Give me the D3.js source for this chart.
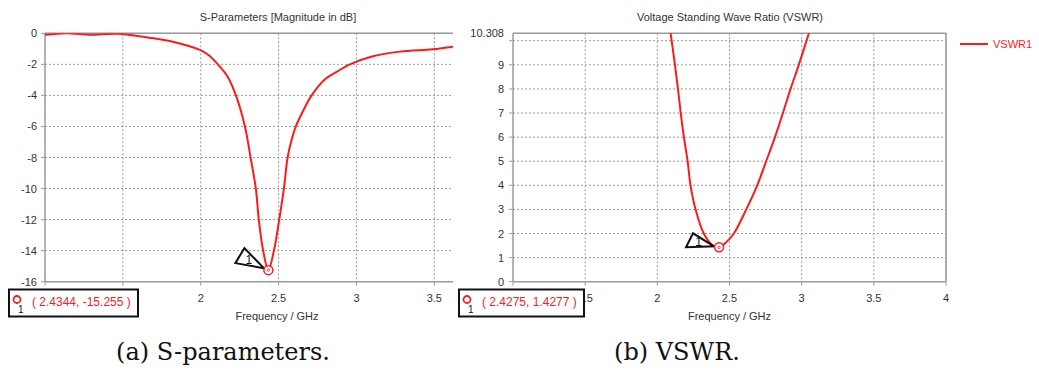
<!DOCTYPE html>
<html>
<head>
<meta charset="utf-8">
<script src="https://cdn.jsdelivr.net/npm/d3@7"></script>
<style>
  body { margin: 0; background: #fff; }
  svg text { font-family: "Liberation Sans", Arial, sans-serif; }
  .grid line { stroke: #9a9a9a; stroke-dasharray: 2,2; stroke-width: 1; }
  .frame { stroke: #9a9a9a; stroke-width: 1.5; fill: none; }
  .tick-text { fill: #333; font-size: 11px; }
  .caption { font-family: "DejaVu Serif", serif; font-size: 24px; fill: #111; }
</style>
</head>
<body>
<svg id="chart" width="1039" height="374"></svg>
<script>
// S11 magnitude (dB) vs frequency (GHz)
const s11Freq = [1.0, 1.14, 1.29, 1.46, 1.67, 1.82, 1.995, 2.05, 2.11, 2.17, 2.226, 2.284, 2.32, 2.354, 2.373, 2.401, 2.4344,
  2.47, 2.504, 2.534, 2.558, 2.58, 2.611, 2.66, 2.712, 2.8, 2.87, 2.958, 3.1, 3.28, 3.49, 3.62];
const s11Db = [-0.1, 0.0, -0.1, -0.03, -0.28, -0.54, -1.07, -1.4, -2.0, -2.75, -4.0, -6.0, -8.0, -10.0, -12.0, -14.0, -15.255,
  -14.0, -12.0, -10.0, -8.0, -7.0, -6.0, -4.95, -4.0, -2.95, -2.5, -2.0, -1.5, -1.18, -1.03, -0.86];

// VSWR vs frequency (GHz)
const vswrFreq = [2.07, 2.092, 2.122, 2.143, 2.162, 2.184, 2.21, 2.23, 2.265, 2.322, 2.385, 2.4275, 2.47, 2.53,
  2.616, 2.692, 2.754, 2.815, 2.87, 2.923, 2.98, 3.05, 3.07];
const vswrVal = [11.2, 10.308, 9, 8, 7, 6, 5, 4, 3, 2, 1.5, 1.4277, 1.6, 2,
  3, 4, 5, 6, 7, 8, 9, 10.308, 10.68];

const s11Marker = {f: 2.4344, v: -15.255, label: '( 2.4344, -15.255 )'};
const vswrMarker = {f: 2.4275, v: 1.4277, label: '( 2.4275, 1.4277 )'};

const s11XTicks = [1, 1.5, 2, 2.5, 3, 3.5];
const s11YTicks = [0, -2, -4, -6, -8, -10, -12, -14, -16];
const vswrXTicks = [1, 1.5, 2, 2.5, 3, 3.5, 4];
const vswrYTicks = [0, 1, 2, 3, 4, 5, 6, 7, 8, 9, 10];
const vswrYLabels = ['0', '1', '2', '3', '4', '5', '6', '7', '8', '9', ''];

const svg = d3.select('#chart');
const red = '#ff1a1a';

function drawPanel(opt) {
  const x = d3.scaleLinear().domain(opt.xDomain).range([opt.left, opt.right]);
  const y = d3.scaleLinear().domain(opt.yDomain).range([opt.bottom, opt.top]);
  const g = svg.append('g');
  const bx = opt.box[0], bw = opt.box[1];

  // grid
  const grid = g.append('g').attr('class', 'grid');
  grid.selectAll('line.v').data(opt.xTicks.filter(d => d > opt.xDomain[0])).enter()
    .append('line')
    .attr('x1', d => x(d)).attr('x2', d => x(d))
    .attr('y1', opt.top).attr('y2', opt.bottom);
  grid.selectAll('line.h').data(opt.yTicks.filter(d => d !== opt.yDomain[0])).enter()
    .append('line')
    .attr('x1', opt.left).attr('x2', opt.right)
    .attr('y1', d => y(d)).attr('y2', d => y(d));

  // frame
  g.append('line').attr('class', 'frame')
    .attr('x1', opt.left).attr('x2', opt.right).attr('y1', opt.top).attr('y2', opt.top);
  g.append('line').attr('class', 'frame')
    .attr('x1', opt.left).attr('x2', opt.right).attr('y1', opt.bottom).attr('y2', opt.bottom);
  g.append('line').attr('class', 'frame')
    .attr('x1', opt.left).attr('x2', opt.left).attr('y1', opt.top).attr('y2', opt.bottom);
  if (opt.rightBorder) {
    g.append('line').attr('class', 'frame')
      .attr('x1', opt.right).attr('x2', opt.right).attr('y1', opt.top).attr('y2', opt.bottom);
  }

  // tick marks
  g.selectAll('line.xt').data(opt.xTicks).enter().append('line')
    .attr('stroke', '#9a9a9a')
    .attr('x1', d => x(d)).attr('x2', d => x(d))
    .attr('y1', opt.bottom).attr('y2', opt.bottom + 4);
  g.selectAll('line.yt').data(opt.yTicks).enter().append('line')
    .attr('stroke', '#9a9a9a')
    .attr('x1', opt.left - 4).attr('x2', opt.left)
    .attr('y1', d => y(d)).attr('y2', d => y(d));

  // x tick labels: the marker box hides those under it
  const labClip = 'labclip' + opt.id;
  svg.append('clipPath').attr('id', labClip).append('rect')
    .attr('x', bx + bw + 1).attr('y', 0).attr('width', 1039).attr('height', 374);
  g.append('g').attr('clip-path', 'url(#' + labClip + ')')
    .selectAll('text').data(opt.xTicks.filter(d => x(d) + 8 > bx + bw)).enter().append('text')
    .attr('class', 'tick-text')
    .attr('text-anchor', 'middle')
    .attr('x', d => x(d)).attr('y', opt.bottom + 20)
    .text(d => d);
  g.selectAll('text.yl').data(opt.yTicks).enter().append('text')
    .attr('class', 'tick-text')
    .attr('text-anchor', 'end')
    .attr('x', opt.left - opt.labelGap).attr('y', d => y(d) + 4)
    .text((d, i) => opt.yLabels ? opt.yLabels[i] : d);
  if (opt.topLabel) {
    g.append('text').attr('class', 'tick-text')
      .attr('text-anchor', 'end')
      .attr('x', opt.left - opt.labelGap).attr('y', y(opt.yDomain[1]) + 4)
      .text(opt.topLabel);
  }

  // titles
  g.append('text').attr('class', 'tick-text')
    .attr('text-anchor', 'middle')
    .attr('x', (opt.titleX)).attr('y', 21)
    .text(opt.title);
  g.append('text').attr('class', 'tick-text')
    .attr('text-anchor', 'middle')
    .attr('x', (opt.left + opt.right) / 2 + opt.xTitleShift).attr('y', opt.bottom + 38)
    .text('Frequency / GHz');

  // curve
  const clipId = 'clip' + opt.id;
  svg.append('clipPath').attr('id', clipId).append('rect')
    .attr('x', opt.left).attr('y', opt.top)
    .attr('width', opt.right - opt.left).attr('height', opt.bottom - opt.top + 2);
  const pts = opt.xs.map((f, i) => [f, opt.ys[i]]);
  const line = d3.line().x(d => x(d[0])).y(d => y(d[1])).curve(d3.curveCatmullRom.alpha(0.5));
  g.append('path').datum(pts)
    .attr('clip-path', 'url(#' + clipId + ')')
    .attr('fill', 'none').attr('stroke', red).attr('stroke-width', 2)
    .attr('d', line);

  // marker
  const mx = x(opt.marker.f), my = y(opt.marker.v);
  const tri = opt.triOffsets.map(o => [mx + o[0], my + o[1]]);
  g.append('path')
    .attr('d', 'M' + tri.map(p => p.join(',')).join('L') + 'Z')
    .attr('fill', 'none').attr('stroke', '#111').attr('stroke-width', 2);
  g.append('text')
    .attr('x', d3.mean(tri, p => p[0]) + 1).attr('y', d3.mean(tri, p => p[1]) + 4)
    .attr('text-anchor', 'middle').attr('font-size', 12).attr('fill', '#111')
    .attr('font-family', 'DejaVu Serif, serif')
    .text('1');
  g.append('circle').attr('cx', mx).attr('cy', my).attr('r', 4.5)
    .attr('fill', '#fff').attr('stroke', red).attr('stroke-width', 1.5);
  g.append('circle').attr('cx', mx).attr('cy', my).attr('r', 1.2)
    .attr('fill', 'none').attr('stroke', red).attr('stroke-width', 0.8);

  // marker readout box
  g.append('rect').attr('x', bx).attr('y', 289.5).attr('width', bw).attr('height', 27)
    .attr('fill', '#fff').attr('stroke', '#111').attr('stroke-width', 2);
  g.append('circle').attr('cx', bx + 8).attr('cy', 299.5).attr('r', 3.5)
    .attr('fill', 'none').attr('stroke', red).attr('stroke-width', 1.8);
  g.append('text').attr('x', bx + 9).attr('y', 313).attr('font-size', 10).attr('fill', '#111')
    .text('1');
  g.append('text').attr('x', bx + 23).attr('y', 306).attr('font-size', 12).attr('fill', red)
    .text(opt.marker.label);
}

drawPanel({
  id: 'a', left: 45, right: 453, top: 33.3, bottom: 281.7,
  xDomain: [1, 3.62], yDomain: [-16, 0],
  xTicks: s11XTicks, yTicks: s11YTicks, labelGap: 8,
  title: 'S-Parameters [Magnitude in dB]', titleX: 278, xTitleShift: 28,
  xs: s11Freq, ys: s11Db, marker: s11Marker,
  triOffsets: [[-33, -7], [-24, -22], [-4.5, -2]],
  box: [9, 129], rightBorder: false
});

drawPanel({
  id: 'b', left: 513, right: 946, top: 33.3, bottom: 281.7,
  xDomain: [1, 4], yDomain: [0, 10.308],
  xTicks: vswrXTicks, yTicks: vswrYTicks, yLabels: vswrYLabels, labelGap: 9,
  topLabel: '10.308',
  title: 'Voltage Standing Wave Ratio (VSWR)', titleX: 730, xTitleShift: 0,
  xs: vswrFreq, ys: vswrVal, marker: vswrMarker,
  triOffsets: [[-33, 0], [-26, -14], [-5, -1]],
  box: [459, 125], rightBorder: true
});

// legend
svg.append('line').attr('x1', 960).attr('x2', 988).attr('y1', 44).attr('y2', 44)
  .attr('stroke', red).attr('stroke-width', 2);
svg.append('text').attr('x', 993).attr('y', 48).attr('font-size', 11).attr('fill', red)
  .text('VSWR1');

// captions
svg.append('text').attr('class', 'caption').attr('x', 223).attr('y', 360)
  .attr('text-anchor', 'middle').text('(a) S-parameters.');
svg.append('text').attr('class', 'caption').attr('x', 677).attr('y', 360)
  .attr('text-anchor', 'middle').text('(b) VSWR.');
</script>
</body>
</html>
